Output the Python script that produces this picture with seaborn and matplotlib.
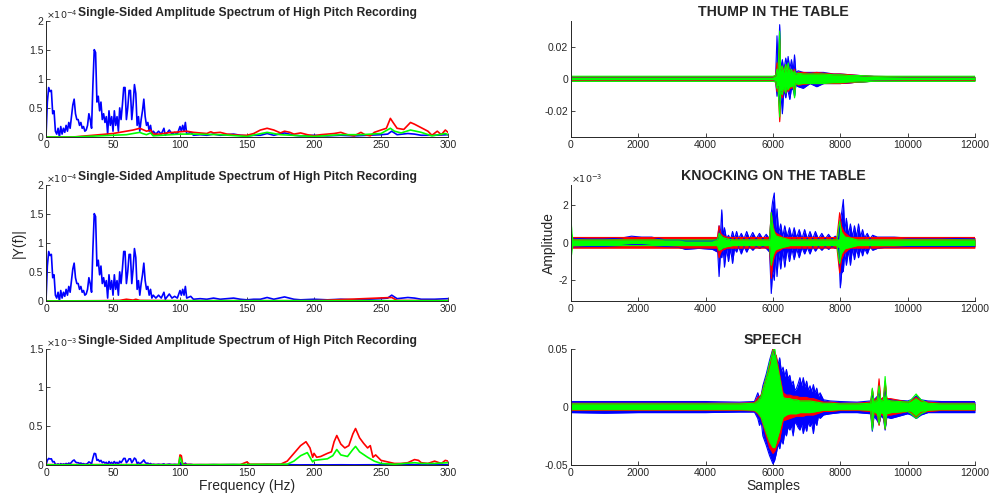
import matplotlib
matplotlib.use("Agg")
import matplotlib.pyplot as plt
import seaborn as sns
import numpy as np

sns.set_style("ticks")
plt.rcParams['font.family'] = ['Liberation Sans', 'DejaVu Sans']

BLUE, RED, GREEN = '#0000ff', '#ff0000', '#00ff00'

# ---------------- spectra (frequency in Hz) ----------------
# blue spectrum, units of 1e-4 (same recording in all three spectrum panels)
blue_f = [0, 1, 2, 3, 4, 5, 6, 7, 8, 9, 10, 11, 12, 13, 14, 15, 16, 17, 18, 19,
          20, 21, 22, 23, 24, 25, 26, 27, 28, 29, 30, 31, 32, 33, 34, 35, 36, 37, 38, 39,
          40, 41, 42, 43, 44, 45, 46, 47, 48, 49, 50, 51, 52, 53, 54, 55, 56, 57, 58, 59,
          60, 61, 62, 63, 64, 65, 66, 67, 68, 69, 70, 71, 72, 73, 74, 75, 76, 77, 78, 79,
          80, 82, 84, 86, 88, 89, 92, 94, 96, 98, 100, 101, 102, 103, 104, 105, 108, 110,
          115, 120, 125, 130, 135, 140, 145, 150, 155, 160, 165, 170, 178, 185, 190, 200,
          210, 220, 230, 240, 250, 255, 258, 262, 270, 275, 280, 290, 300]
blue_y = [0, 0.6, 0.85, 0.78, 0.8, 0.4, 0.45, 0.1, 0.05, 0.15, 0.0, 0.18, 0.05, 0.15, 0.08, 0.2, 0.1, 0.25, 0.15, 0.35,
          0.55, 0.65, 0.4, 0.3, 0.3, 0.2, 0.25, 0.15, 0.18, 0.1, 0.12, 0.2, 0.4, 0.3, 0.15, 0.9, 1.5, 1.45, 0.6, 0.7,
          0.45, 0.6, 0.3, 0.4, 0.25, 0.35, 0.05, 0.45, 0.2, 0.35, 0.1, 0.45, 0.2, 0.35, 0.1, 0.5, 0.3, 0.55, 0.85, 0.85,
          0.3, 0.5, 0.8, 0.8, 0.3, 0.55, 0.9, 0.75, 0.2, 0.35, 0.1, 0.3, 0.45, 0.65, 0.35, 0.2, 0.25, 0.1, 0.2, 0.05,
          0.1, 0.05, 0.1, 0.05, 0.15, 0.03, 0.12, 0.05, 0.08, 0.05, 0.18, 0.1, 0.2, 0.1, 0.25, 0.05, 0.08, 0.03,
          0.04, 0.03, 0.05, 0.03, 0.04, 0.05, 0.03, 0.02, 0.03, 0.03, 0.06, 0.03, 0.07, 0.03, 0.02, 0.03,
          0.02, 0.03, 0.02, 0.03, 0.04, 0.05, 0.1, 0.04, 0.06, 0.05, 0.03, 0.03, 0.04]

# panel 1 (units 1e-4)
red1_f = [0, 20, 30, 40, 50, 55, 60, 65, 70, 72, 75, 78, 80, 85, 90, 95, 100, 105, 110, 115,
          120, 123, 125, 130, 135, 140, 145, 150, 155, 160, 165, 170, 175, 178, 182, 185, 190,
          195, 200, 205, 210, 215, 220, 225, 230, 235, 238, 242, 245, 250, 254, 257, 259, 262,
          267, 272, 275, 280, 285, 288, 292, 295, 298, 300]
red1_y = [0, 0, 0.02, 0.04, 0.06, 0.08, 0.1, 0.12, 0.15, 0.13, 0.1, 0.12, 0.05, 0.05, 0.07, 0.08, 0.09, 0.1, 0.08, 0.07,
          0.06, 0.09, 0.07, 0.08, 0.05, 0.04, 0.03, 0.03, 0.06, 0.12, 0.15, 0.12, 0.07, 0.1, 0.08, 0.05, 0.07,
          0.04, 0.02, 0.04, 0.05, 0.06, 0.08, 0.04, 0.02, 0.08, 0.04, 0.02, 0.08, 0.12, 0.15, 0.32, 0.25, 0.15,
          0.13, 0.25, 0.22, 0.16, 0.1, 0.03, 0.1, 0.04, 0.12, 0.08]
green1_f = [0, 20, 40, 60, 70, 72, 75, 78, 80, 100, 110, 130, 150, 165, 175, 200, 220, 235,
            250, 257, 260, 265, 272, 280, 288, 298, 300]
green1_y = [0, 0, 0.02, 0.04, 0.08, 0.06, 0.04, 0.07, 0.02, 0.05, 0.05, 0.04, 0.01, 0.08, 0.04, 0.01, 0.04, 0.04,
            0.06, 0.15, 0.1, 0.07, 0.12, 0.08, 0.02, 0.06, 0.04]

# panel 2 (units 1e-4)
red2_f = [0, 40, 55, 60, 65, 67, 70, 100, 150, 200, 258, 262, 300]
red2_y = [0, 0.005, 0.01, 0.03, 0.015, 0.03, 0.01, 0.005, 0.005, 0.005, 0.06, 0.01, 0.005]
green2_f = [0, 100, 200, 300]
green2_y = [0, 0.005, 0.005, 0.005]

# panel 3 (units 1e-3); blue is blue_y / 10
red3_f = [0, 99, 100, 101, 102, 110, 145, 150, 152, 175, 180, 185, 190, 194, 197, 199, 200, 202,
          205, 210, 213, 215, 217, 220, 223, 226, 229, 231, 234, 237, 240, 242, 244, 246, 250,
          255, 260, 265, 270, 275, 278, 280, 285, 290, 295, 298, 300]
red3_y = [0.005, 0.005, 0.13, 0.12, 0.01, 0.005, 0.005, 0.04, 0.01, 0.01, 0.05, 0.15, 0.25, 0.3, 0.22, 0.1, 0.15, 0.1,
          0.11, 0.15, 0.17, 0.3, 0.38, 0.27, 0.22, 0.25, 0.4, 0.47, 0.35, 0.28, 0.22, 0.25, 0.1, 0.13, 0.06,
          0.04, 0.02, 0.02, 0.03, 0.07, 0.06, 0.03, 0.02, 0.05, 0.02, 0.06, 0.05]
green3_f = [0, 99, 100, 101, 102, 180, 185, 190, 195, 199, 200, 205, 210, 214, 217, 220, 225,
            229, 231, 234, 240, 245, 250, 260, 275, 280, 290, 300]
green3_y = [0.003, 0.003, 0.1, 0.06, 0.003, 0.01, 0.05, 0.12, 0.16, 0.04, 0.06, 0.07, 0.08, 0.12, 0.2, 0.13, 0.11,
            0.2, 0.24, 0.17, 0.1, 0.05, 0.02, 0.01, 0.03, 0.02, 0.02, 0.03]

# ---------------- time signals: upper / lower envelopes ----------------
# THUMP (units 1e-3)
thump_x = [0, 1000, 2000, 3000, 4000, 5000, 6000, 6080, 6120, 6150, 6200, 6230, 6280, 6320, 6380,
           6420, 6450, 6500, 6550, 6600, 6640, 6680, 6750, 6900, 7100, 7300, 7500, 7800, 8000,
           8300, 8600, 9000, 10000, 11000, 12000]
thump_blue_hi = [1.2, 1.2, 1.2, 1.2, 1.2, 1.2, 1.2, 2, 27, 8, 34, 6, 12, 5, 13, 8, 14, 6, 12, 5, 15, 4, 5, 4, 4, 4, 4,
                 3, 3, 2.5, 2, 1.5, 1.2, 1.2, 1.2]
thump_blue_lo = [-1.2, -1.2, -1.2, -1.2, -1.2, -1.2, -1.2, -2, -11, -5, -19, -8, -22, -7, -12, -6, -8, -13, -6, -7,
                 -11, -4, -5, -6, -3, -5, -3, -3, -3, -2.5, -2, -1.5, -1.2, -1.2, -1.2]
thump_red_hi = [1.2, 1.2, 1.2, 1.2, 1.2, 1.2, 1.2, 2, 10, 6, 25, 6, 8, 5, 9, 5, 8, 5, 6, 4, 6, 3, 4, 4, 3.5, 4, 3.5,
                3, 3, 2.5, 2, 1.5, 1.2, 1.2, 1.2]
thump_red_lo = [-1.2, -1.2, -1.2, -1.2, -1.2, -1.2, -1.2, -2, -8, -5, -27, -8, -12, -6, -9, -6, -8, -6, -6, -5, -7,
                -3, -4, -3.5, -3, -3, -3, -3, -3, -2.5, -2, -1.5, -1.2, -1.2, -1.2]
thump_green_hi = [1.6, 1.6, 1.6, 1.6, 1.6, 1.6, 1.6, 2, 6, 5, 30, 5, 8, 4, 9, 4, 10, 4, 6, 3, 5, 3, 3.5, 3, 3, 3, 3,
                  2.5, 2.5, 2, 2, 1.6, 1.6, 1.6, 1.6]
thump_green_lo = [-1.6, -1.6, -1.6, -1.6, -1.6, -1.6, -1.6, -2, -6, -5, -24, -8, -10, -5, -9, -5, -7, -5, -5, -4, -12,
                  -3, -3.5, -3, -3, -3, -3, -2.5, -2.5, -2, -2, -1.6, -1.6, -1.6, -1.6]

# KNOCKING (units 1e-3)
knock_blue_x = [0, 500, 1000, 1500, 1800, 2100, 2400, 2800, 3200, 3400, 3800, 4200, 4360,
                4400, 4440, 4480, 4520, 4560, 4620, 4680, 4740, 4800, 4860, 4920, 4980, 5060, 5140, 5220,
                5300, 5400, 5500, 5600, 5700, 5800, 5900,
                5950, 5990, 6040, 6080, 6120, 6170, 6230, 6290, 6350, 6420, 6490, 6560, 6630, 6700, 6780,
                6860, 6940, 7020, 7100, 7180, 7260, 7350, 7450, 7550, 7650, 7750, 7850, 7950,
                8000, 8040, 8090, 8130, 8180, 8240, 8300, 8360, 8420, 8480, 8540, 8600, 8660, 8720, 8800,
                8880, 8960, 9100, 9300, 9600, 10000, 11000, 12000]
knock_blue_hi = [0.25, 0.2, 0.2, 0.25, 0.35, 0.3, 0.3, 0.15, 0.15, 0.1, 0.1, 0.1, 0.2,
                 0.9, 0.4, 1.75, 0.3, 0.8, 0.2, 0.4, 0.15, 0.6, 0.2, 0.6, 0.2, 0.5, 0.2, 0.6,
                 0.2, 0.55, 0.2, 0.5, 0.2, 0.45, 0.2,
                 1.6, 2.2, 2.65, 0.8, 1.8, 0.5, 1.0, 0.3, 0.9, 0.3, 0.8, 0.25, 0.8, 0.25, 0.7,
                 0.2, 0.7, 0.2, 0.6, 0.2, 0.6, 0.2, 0.5, 0.2, 0.45, 0.2, 0.35, 0.2,
                 1.2, 1.6, 2.3, 0.6, 1.3, 0.4, 1.0, 0.3, 0.9, 0.3, 1.0, 0.3, 0.7, 0.25, 0.5,
                 0.2, 0.4, 0.3, 0.3, 0.3, 0.25, 0.25, 0.2]
knock_blue_lo = [-0.25, -0.2, -0.2, -0.15, -0.1, -0.1, -0.15, -0.2, -0.25, -0.35, -0.3, -0.35, -0.5,
                 -1.8, -0.6, -0.8, -0.3, -1.3, -0.3, -1.0, -0.3, -1.1, -0.3, -0.5, -0.2, -0.6, -0.2, -0.5,
                 -0.2, -0.4, -0.2, -0.3, -0.2, -0.3, -0.5,
                 -2.7, -1.5, -2.0, -0.6, -1.8, -0.5, -1.4, -0.4, -1.3, -0.3, -1.0, -0.3, -0.9, -0.3, -0.8,
                 -0.25, -0.6, -0.25, -0.6, -0.2, -0.45, -0.2, -0.4, -0.2, -0.35, -0.2, -0.3, -0.3,
                 -2.4, -1.6, -1.5, -0.5, -1.2, -0.4, -1.2, -0.3, -0.9, -0.3, -0.8, -0.3, -0.7, -0.3, -0.6,
                 -0.2, -0.4, -0.3, -0.25, -0.25, -0.2, -0.2, -0.2]
knock_x = [0, 30, 60, 500, 1000, 1500, 1800, 2100, 2400, 2800, 3200, 3400, 3800, 4200, 4350, 4400,
           4450, 4500, 4550, 4650, 4800, 5000, 5200, 5500, 5800, 5900, 5950, 6000, 6050, 6100, 6200,
           6300, 6500, 6700, 7000, 7300, 7600, 7900, 7980, 8030, 8100, 8150, 8300, 8500, 8700, 8900,
           9200, 9600, 10000, 11000, 12000]
knock_red_hi = [0.28, 0.28, 0.28, 0.28, 0.28, 0.28, 0.28, 0.28, 0.28, 0.28, 0.28, 0.28, 0.28, 0.28, 0.28, 0.9,
                0.5, 0.4, 0.35, 0.28, 0.28, 0.28, 0.28, 0.28, 0.28, 0.28, 1.6, 0.9, 0.6, 0.5, 0.4,
                0.28, 0.28, 0.28, 0.28, 0.28, 0.28, 0.28, 1.6, 0.9, 0.6, 0.5, 0.28, 0.28, 0.28, 0.28,
                0.28, 0.28, 0.28, 0.28, 0.28]
knock_red_lo = [-0.28, -0.28, -0.28, -0.28, -0.28, -0.28, -0.28, -0.28, -0.28, -0.28, -0.28, -0.28, -0.28, -0.28, -0.28, -0.8,
                -0.5, -0.4, -0.35, -0.28, -0.28, -0.28, -0.28, -0.28, -0.28, -0.28, -1.9, -1.0, -0.7, -0.5, -0.4,
                -0.28, -0.28, -0.28, -0.28, -0.28, -0.28, -0.28, -1.6, -0.9, -0.6, -0.5, -0.28, -0.28, -0.28, -0.28,
                -0.28, -0.28, -0.28, -0.28, -0.28]
knock_green_hi = [1.6, 0.5, 0.15, 0.15, 0.15, 0.15, 0.15, 0.15, 0.15, 0.15, 0.15, 0.15, 0.15, 0.15, 0.15, 0.5,
                  0.4, 0.3, 0.25, 0.2, 0.15, 0.15, 0.15, 0.15, 0.15, 0.15, 1.6, 0.8, 0.5, 0.35, 0.3,
                  0.25, 0.15, 0.15, 0.15, 0.15, 0.15, 0.15, 1.15, 0.6, 0.4, 0.3, 0.25, 0.15, 0.15, 0.15,
                  0.15, 0.15, 0.15, 0.15, 0.15]
knock_green_lo = [-1.1, -0.4, -0.15, -0.15, -0.15, -0.15, -0.15, -0.15, -0.15, -0.15, -0.15, -0.15, -0.15, -0.15, -0.15, -0.4,
                  -0.35, -0.3, -0.25, -0.2, -0.15, -0.15, -0.15, -0.15, -0.15, -0.15, -1.2, -0.7, -0.45, -0.35, -0.3,
                  -0.25, -0.15, -0.15, -0.15, -0.15, -0.15, -0.15, -1.1, -0.6, -0.4, -0.3, -0.25, -0.15, -0.15, -0.15,
                  -0.15, -0.15, -0.15, -0.15, -0.15]

# SPEECH (units 1e-2)
speech_blue_x = [0, 1000, 2000, 3000, 4000, 5000, 5450, 5550, 5600, 5650, 5700, 5800, 5900, 6000,
                 6050, 6100, 6150, 6200, 6250, 6300, 6350, 6400, 6450, 6500, 6550, 6600, 6650, 6700,
                 6750, 6800, 6850, 6900, 6950, 7000, 7050, 7100, 7150, 7200, 7250, 7300, 7350, 7400,
                 7500, 7700, 8000, 8500, 8900, 8950, 9000, 9100, 9150, 9200, 9280, 9330, 9380, 9500,
                 10000, 10100, 10250, 10400, 10600, 11000, 12000]
speech_blue_hi = [0.45, 0.45, 0.45, 0.45, 0.45, 0.4, 0.45, 1.2, 0.7, 1.0, 1.8, 2.8, 4.0, 5.0,
                  4.6, 4.2, 3.6, 4.2, 3.0, 3.4, 2.6, 3.2, 2.4, 2.7, 1.9, 2.2, 1.4, 1.6,
                  2.0, 2.5, 1.8, 2.5, 1.7, 2.2, 1.4, 1.8, 1.3, 1.9, 1.2, 1.6, 0.9, 1.2,
                  0.6, 0.5, 0.45, 0.4, 0.5, 1.0, 0.6, 0.9, 1.2, 0.6, 0.8, 1.4, 0.7, 0.6,
                  0.5, 0.6, 0.9, 0.6, 0.5, 0.45, 0.45]
speech_blue_lo = [-0.5, -0.55, -0.5, -0.5, -0.5, -0.45, -0.45, -1.0, -1.6, -1.2, -2.5, -3.3, -4.2, -4.9,
                  -4.6, -4.0, -3.2, -3.6, -2.8, -3.2, -2.2, -2.5, -1.7, -2.0, -1.6, -2.5, -1.3, -1.5,
                  -1.8, -2.0, -1.5, -2.3, -1.6, -2.1, -1.3, -1.7, -1.4, -2.3, -1.2, -1.6, -0.8, -1.0,
                  -0.7, -0.6, -0.5, -0.5, -0.6, -2.1, -0.8, -1.2, -1.5, -0.8, -1.0, -2.0, -0.9, -1.0,
                  -0.6, -0.7, -1.0, -0.7, -0.5, -0.5, -0.5]
speech_x = [0, 1000, 2000, 3000, 4000, 5000, 5450, 5550, 5650, 5800, 5900, 6000, 6050, 6100, 6200,
            6300, 6400, 6500, 6600, 6700, 6800, 6900, 7000, 7100, 7200, 7300, 7400, 7500, 7700,
            8000, 8500, 8900, 8950, 9000, 9100, 9150, 9200, 9280, 9330, 9380, 9500, 10000, 10100,
            10250, 10400, 10600, 11000, 12000]
speech_red_hi = [0.3, 0.3, 0.3, 0.3, 0.3, 0.3, 0.35, 0.8, 1.0, 2.5, 3.5, 5.0, 4.6, 4.4, 2.7,
                 1.2, 1.0, 1.0, 0.9, 0.9, 0.8, 0.8, 0.8, 0.7, 0.7, 0.6, 0.5, 0.4, 0.4,
                 0.3, 0.3, 0.4, 1.5, 0.5, 0.8, 2.4, 0.6, 0.8, 2.2, 0.7, 0.7, 0.4, 0.5,
                 0.8, 0.5, 0.4, 0.3, 0.3]
speech_red_lo = [-0.3, -0.3, -0.3, -0.3, -0.3, -0.3, -0.35, -0.6, -1.0, -2.5, -3.5, -4.0, -3.8, -3.5, -2.8,
                 -1.2, -1.1, -1.0, -0.9, -0.8, -0.8, -0.8, -0.7, -0.7, -0.7, -0.6, -0.5, -0.4, -0.4,
                 -0.3, -0.3, -0.4, -1.8, -0.5, -0.8, -1.6, -0.6, -0.8, -1.9, -0.7, -0.7, -0.4, -0.5,
                 -0.9, -0.5, -0.4, -0.3, -0.3]
speech_green_hi = [0.25, 0.25, 0.25, 0.25, 0.25, 0.25, 0.3, 0.5, 0.9, 2.5, 3.8, 4.8, 5.0, 4.0, 2.5,
                   0.8, 0.7, 0.7, 0.6, 0.6, 0.5, 0.5, 0.5, 0.5, 0.45, 0.4, 0.35, 0.3, 0.3,
                   0.25, 0.25, 0.3, 1.6, 0.4, 0.6, 1.8, 0.5, 0.6, 2.6, 0.6, 0.5, 0.4, 0.6,
                   1.1, 0.6, 0.3, 0.25, 0.25]
speech_green_lo = [-0.25, -0.25, -0.25, -0.25, -0.25, -0.25, -0.3, -0.5, -0.9, -2.2, -3.0, -3.5, -3.5, -3.0, -2.0,
                   -0.9, -0.7, -0.6, -0.6, -0.6, -0.5, -0.5, -0.5, -0.5, -0.45, -0.4, -0.35, -0.3, -0.3,
                   -0.25, -0.25, -0.3, -2.0, -0.4, -0.6, -1.5, -0.5, -0.6, -1.9, -0.6, -0.5, -0.4, -0.6,
                   -1.0, -0.6, -0.3, -0.25, -0.25]

spec_title = 'Single-Sided Amplitude Spectrum of High Pitch Recording'
FS = 7.5
TXT = '#262626'


def style_axes(ax):
    sns.despine(ax=ax)
    ax.tick_params(direction='in', length=3, width=0.6, labelsize=FS, colors=TXT, pad=2)
    for s in ('left', 'bottom'):
        ax.spines[s].set_linewidth(0.7)
        ax.spines[s].set_color(TXT)
    ax.yaxis.set_major_formatter(matplotlib.ticker.FormatStrFormatter('%g'))


fig = plt.figure(figsize=(9.98, 5.03), dpi=100)
lefts = [0.0461, 0.572]
width_l, width_r = 0.4028, 0.405
bottoms = [0.7276, 0.4016, 0.0755]
h = 0.2316

# ----- left column: spectra -----
spec_sets = [
    (1.0, red1_f, red1_y, green1_f, green1_y, 2.0, [0, 0.5, 1, 1.5, 2], '-4'),
    (1.0, red2_f, red2_y, green2_f, green2_y, 2.0, [0, 0.5, 1, 1.5, 2], '-4'),
    (0.1, red3_f, red3_y, green3_f, green3_y, 1.5, [0, 0.5, 1, 1.5], '-3'),
]
for i, (bscale, rf, ry, gf, gy, ymax, yt, expo) in enumerate(spec_sets):
    ax = fig.add_axes([lefts[0], bottoms[i], width_l, h])
    sns.lineplot(x=blue_f, y=np.array(blue_y) * bscale, color=BLUE, lw=1.2, ax=ax)
    sns.lineplot(x=rf, y=ry, color=RED, lw=1.2, ax=ax)
    sns.lineplot(x=gf, y=gy, color=GREEN, lw=1.2, ax=ax)
    ax.set_xlim(0, 300)
    ax.set_ylim(0, ymax)
    ax.set_yticks(yt)
    ax.set_xticks(range(0, 301, 50))
    style_axes(ax)
    ax.set_title(spec_title, fontsize=8.7, fontweight='bold', pad=3)
    ax.text(0.0, 1.0, r'$\times10^{%s}$' % expo, transform=ax.transAxes, fontsize=6.8,
            color=TXT, va='bottom', ha='left')
    if i == 1:
        ax.set_ylabel('|Y(f)|', fontsize=10, color=TXT, labelpad=2)
    if i == 2:
        ax.set_xlabel('Frequency (Hz)', fontsize=10, color=TXT, labelpad=1)

# ----- right column: time signals -----
sig_sets = [
    ('THUMP IN THE TABLE', 1e-3,
     [(thump_x, thump_blue_lo, thump_blue_hi, BLUE), (thump_x, thump_red_lo, thump_red_hi, RED),
      (thump_x, thump_green_lo, thump_green_hi, GREEN)],
     (-0.0366, 0.0366), [-0.02, 0, 0.02], None),
    ('KNOCKING ON THE TABLE', 1.0,
     [(knock_blue_x, knock_blue_lo, knock_blue_hi, BLUE), (knock_x, knock_red_lo, knock_red_hi, RED),
      (knock_x, knock_green_lo, knock_green_hi, GREEN)],
     (-3.1, 3.1), [-2, 0, 2], '-3'),
    ('SPEECH', 1e-2,
     [(speech_blue_x, speech_blue_lo, speech_blue_hi, BLUE), (speech_x, speech_red_lo, speech_red_hi, RED),
      (speech_x, speech_green_lo, speech_green_hi, GREEN)],
     (-0.05, 0.05), [-0.05, 0, 0.05], None),
]
for i, (title, scale, layers, ylim, yt, expo) in enumerate(sig_sets):
    ax = fig.add_axes([lefts[1], bottoms[i], width_r, h])
    for xs, lo, hi, col in layers:
        lo_v = np.array(lo) * scale
        hi_v = np.array(hi) * scale
        ax.fill_between(xs, lo_v, hi_v, color=col, lw=0)
        sns.lineplot(x=xs, y=hi_v, color=col, lw=0.8, ax=ax)
        sns.lineplot(x=xs, y=lo_v, color=col, lw=0.8, ax=ax)
    ax.set_xlim(0, 12000)
    ax.set_ylim(*ylim)
    ax.set_yticks(yt)
    ax.set_xticks(range(0, 12001, 2000))
    style_axes(ax)
    ax.set_title(title, fontsize=10.2, fontweight='bold', pad=3)
    if expo:
        ax.text(0.0, 1.0, r'$\times10^{%s}$' % expo, transform=ax.transAxes, fontsize=6.8,
                color=TXT, va='bottom', ha='left')
    if i == 1:
        ax.set_ylabel('Amplitude', fontsize=10, color=TXT, labelpad=2)
    if i == 2:
        ax.set_xlabel('Samples', fontsize=10, color=TXT, labelpad=1)

fig.savefig('out.png', dpi=100)
